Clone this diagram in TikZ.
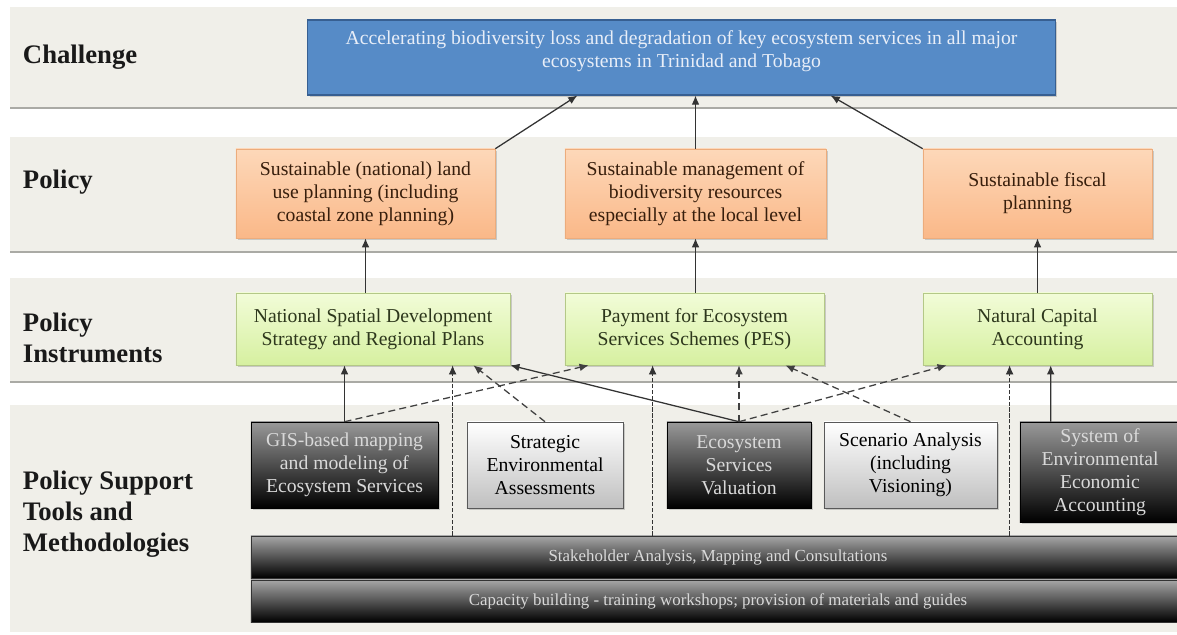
\documentclass[tikz,border=0pt]{standalone}
\usepackage{fontspec}
\setmainfont{Liberation Serif}
\usetikzlibrary{arrows.meta,calc,shadows}
\definecolor{bandfill}{RGB}{240,239,233}
\definecolor{bandline}{RGB}{170,170,165}
\definecolor{chfill}{RGB}{86,139,199}
\definecolor{chline}{RGB}{55,95,145}
\definecolor{chtext}{RGB}{232,238,248}
\definecolor{poltop}{RGB}{253,216,185}
\definecolor{polbot}{RGB}{250,184,136}
\definecolor{polline}{RGB}{236,172,124}
\definecolor{poltext}{RGB}{55,30,12}
\definecolor{insttop}{RGB}{242,252,216}
\definecolor{instbot}{RGB}{214,240,160}
\definecolor{instline}{RGB}{180,200,135}
\definecolor{insttext}{RGB}{45,55,28}
\tikzset{
  boxfont/.style={font=\fontsize{14}{16.5}\selectfont},
  rowlabel/.style={anchor=west,align=left,text=black!90,
    font=\fontsize{19}{22}\selectfont\bfseries},
  shade box/.style={drop shadow={shadow xshift=1.2pt,shadow yshift=-1.2pt,opacity=.35}},
  chbox/.style={boxfont,draw=chline,fill=chfill,text=chtext,align=center,
    line width=0.8pt,shade box},
  polbox/.style={boxfont,draw=polline,top color=poltop,bottom color=polbot,
    text=poltext,align=center,minimum height=2.225cm,shade box},
  instbox/.style={boxfont,draw=instline,top color=insttop,bottom color=instbot,
    text=insttext,align=center,minimum height=1.8cm,shade box},
  darkbox/.style={boxfont,draw=black,top color=black!40,bottom color=black,
    text=black!15,align=center,minimum height=2.15cm,inner sep=2pt,shade box},
  lightbox/.style={boxfont,draw=black!65,top color=white,bottom color=black!25,
    text=black,align=center,minimum height=2.15cm,inner sep=2pt,shade box},
  barbox/.style={font=\fontsize{12}{14}\selectfont,draw=black!80,top color=black!35,
    bottom color=black,text=black!15,minimum width=23.35cm,minimum height=1.05cm},
  arr/.style={->,line width=0.9pt,black!80},
  dasharr/.style={->,line width=0.9pt,black!75,dash pattern=on 5pt off 3pt},
  finearr/.style={->,line width=0.6pt,black!80,dash pattern=on 3pt off 1.2pt}
}
\begin{document}
\begin{tikzpicture}[x=0.025cm,y=-0.025cm,>={Latex[length=6.5pt,width=5.5pt]}]
\useasboundingbox (0,0) rectangle (1177,635);
\fill[white] (0,0) rectangle (1177,635);
% bands
\fill[bandfill] (10,7) rectangle (1177,108);
\fill[bandfill] (10,137) rectangle (1177,252);
\fill[bandfill] (10,278) rectangle (1177,382);
\fill[bandfill] (10,405) rectangle (1177,632);
\draw[bandline,line width=2pt] (10,108)--(1177,108) (10,252)--(1177,252) (10,382)--(1177,382);

\node[rowlabel] (lchal) at (18,57) {Challenge};
\node[rowlabel] (lpol) at (18,182) {Policy};
\node[rowlabel] (linst) at (18,338) {Policy\\Instruments};
\node[rowlabel] (ltool) at (18,514) {Policy Support\\Tools and\\Methodologies};

\node[chbox,minimum width=18.675cm,minimum height=1.875cm] (ch) at (681.5,57.5) {};
\node[text=chtext,boxfont,align=center] (chtxt) at (681.5,51)
 {Accelerating biodiversity loss and degradation of key ecosystem services in all major\\
  ecosystems in Trinidad and Tobago};

\node[polbox,minimum width=6.475cm] (p1) at (365.5,193.5)
 {Sustainable (national) land\\use planning (including\\coastal zone planning)};
\node[polbox,minimum width=6.525cm] (p2) at (695.5,193.5)
 {Sustainable management of\\biodiversity resources\\especially at the local level};
\node[polbox,minimum width=5.725cm] (p3) at (1037.5,193.5) {Sustainable fiscal\\planning};

\node[instbox,minimum width=6.85cm] (i1) at (373,329)
 {National Spatial Development\\Strategy and Regional Plans};
\node[instbox,minimum width=6.475cm] (i2) at (694.5,329)
 {Payment for Ecosystem\\Services Schemes (PES)};
\node[instbox,minimum width=5.725cm] (i3) at (1037.5,329) {Natural Capital\\Accounting};

\node[darkbox,minimum width=4.675cm] (gis) at (344.5,465)
 {GIS-based mapping\\and modeling of\\Ecosystem Services};
\node[lightbox,minimum width=3.9cm] (sea) at (545,465)
 {Strategic\\Environmental\\Assessments};
\node[darkbox,minimum width=3.6cm] (esv) at (739,465) {Ecosystem\\Services\\Valuation};
\node[lightbox,minimum width=4.325cm] (scn) at (910.5,465)
 {Scenario Analysis\\(including\\Visioning)};
\node[darkbox,minimum width=4cm,minimum height=2.5cm] (seea) at (1100,472)
 {System of\\Environmental\\Economic\\Accounting};

\node[barbox] (sbar) at (718,557) {Stakeholder Analysis, Mapping and Consultations};
\node[barbox] (cbar) at (718,601)
 {Capacity building - training workshops; provision of materials and guides};

% policy to challenge
\draw[arr] (p1.north east) -- ($(ch.south west)+(270,0)$);
\draw[arr] (p2.north) -- (p2.north |- ch.south);
\draw[arr] (p3.north west) -- ($(ch.south east)+(-225,0)$);
% instruments to policy
\draw[arr] (i1.north -| p1) -- (p1.south);
\draw[arr] (i2.north -| p2) -- (p2.south);
\draw[arr] (i3.north -| p3) -- (p3.south);
% tools to instruments
\draw[arr] (gis.north) -- (gis.north |- i1.south);
\draw[arr] (esv.north) -- (i1.south east);
\draw[arr] ($(seea.north west)+(31,0)$) -- ($(i3.south west)+(128,0)$);
\draw[dasharr] (gis.north) -- ($(i2.south west)+(24,0)$);
\draw[dasharr] (sea.north) -- ($(i1.south east)+(-37,0)$);
\draw[dasharr] (esv.north) -- (esv.north |- i2.south);
\draw[dasharr] (scn.north) -- ($(i2.south east)+(-39,0)$);
\draw[dasharr] (esv.north) -- ($(i3.south west)+(24,0)$);
\coordinate (s1) at ($(sbar.north west)+(202,0)$);
\coordinate (s2) at ($(sbar.north west)+(402,0)$);
\coordinate (s3) at ($(sbar.north west)+(759,0)$);
\draw[finearr] (s1) -- (s1 |- i1.south);
\draw[finearr] (s2) -- (s2 |- i2.south);
\draw[finearr] (s3) -- (s3 |- i3.south);
\end{tikzpicture}
\end{document}
